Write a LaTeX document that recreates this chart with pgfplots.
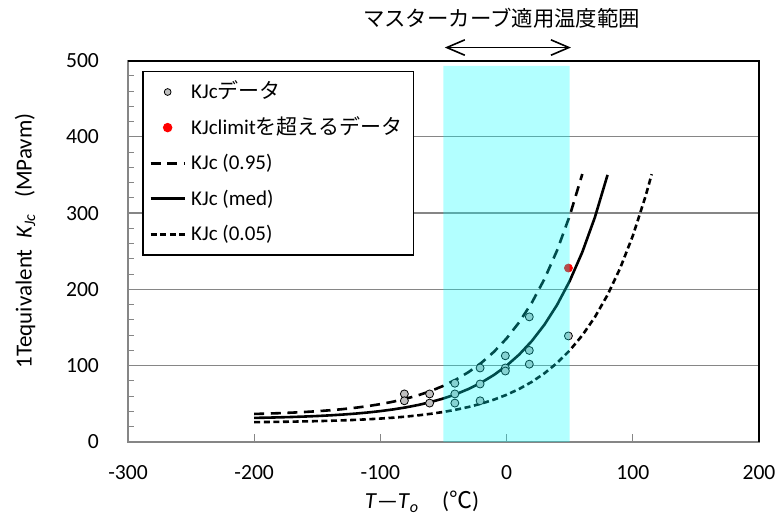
\documentclass[border=0pt]{standalone}
\usepackage{fontspec}
\setmainfont{Carlito}
\newfontfamily\jp{Noto Sans CJK JP}
\usepackage{pgfplots}
\pgfplotsset{compat=1.18}
\usetikzlibrary{arrows.meta}
\definecolor{axgray}{RGB}{134,134,134}
\definecolor{ptgray}{RGB}{191,191,191}
\definecolor{shade}{RGB}{0,255,255}
\begin{document}
\begin{tikzpicture}
\useasboundingbox (-64pt,-37.5pt) rectangle (325pt,221pt);
\begin{axis}[
  clip marker paths=true,
  scale only axis, width=315.5pt, height=190.75pt,
  at={(0pt,0pt)}, anchor=south west,
  xmin=-300, xmax=200, ymin=0, ymax=500,
  xtick={-300,-200,...,200}, ytick={0,100,...,500},
  minor y tick num=4,
  tick align=inside, xtick pos=left, ytick pos=left,
  major tick length=4pt, minor tick length=3pt,
  tick style={axgray, line width=0.5pt},
  ymajorgrids, major grid style={axgray, line width=0.6pt},
  axis line style={axgray, line width=0.9pt},
  font=\fontsize{10.8}{13}\selectfont,
  /pgf/number format/assume math mode=true,
  yticklabel style={xshift=-11pt},
  xticklabel style={yshift=-8pt},
  clip=false,
  xlabel={\textit{T}—\textit{T}\textsubscript{\textit{o}}\quad({\jp ℃})},
  ylabel={1Tequivalent\ \ \textit{K}\textsubscript{\textit{Jc}}\ \ \ (MPavm)},
  xlabel style={at={(axis description cs:0.466,-0.157)}, anchor=center, font=\fontsize{11.5}{13}\selectfont},
  ylabel style={at={(axis description cs:-0.1632,0.527)}, anchor=center, font=\fontsize{11.5}{13}\selectfont},
  legend style={at={(0.0228,0.973)}, anchor=north west, draw=black, line width=0.7pt,
    fill=white, font=\fontsize{10.5}{12}\selectfont,
    nodes={text height=9pt, text depth=2.5pt, inner sep=2.5pt}, row sep=1.3pt},
  legend cell align=left,
]
% legend images
\addlegendimage{only marks, mark=*, mark size=1.7pt, mark options={fill=ptgray, draw=black, line width=0.4pt}}
\addlegendentry{KJc{\jp データ}}
\addlegendimage{only marks, mark=*, mark size=2pt, mark options={fill=red, draw=red}}
\addlegendentry{KJclimit{\jp を超えるデータ}}
\addlegendimage{black, line width=1.3pt, dash pattern=on 5pt off 3.3pt}
\addlegendentry{KJc (0.95)}
\addlegendimage{black, line width=1.5pt}
\addlegendentry{KJc (med)}
\addlegendimage{black, line width=1.3pt, dash pattern=on 3pt off 1.8pt}
\addlegendentry{KJc (0.05)}
% KJc (0.95)
\addplot[black, line width=1.3pt, dash pattern=on 5pt off 3.3pt, forget plot] coordinates {
(-200,36.74)(-190,37.21)(-180,37.78)(-170,38.48)(-160,39.32)(-150,40.33)(-140,41.56)
(-130,43.04)(-120,44.83)(-110,47.00)(-100,49.62)(-90,52.79)(-80,56.63)(-70,61.26)
(-60,66.87)(-50,73.65)(-40,81.85)(-30,91.76)(-20,103.74)(-10,118.24)(0,135.77)
(10,156.97)(20,182.60)(30,213.60)(40,251.07)(50,296.40)(60,351.21)};
% KJc (med)
\addplot[black, line width=1.3pt, forget plot] coordinates {
(-200,31.57)(-190,31.89)(-180,32.29)(-170,32.77)(-160,33.35)(-150,34.05)(-140,34.90)
(-130,35.92)(-120,37.16)(-110,38.66)(-100,40.47)(-90,42.66)(-80,45.31)(-70,48.51)
(-60,52.39)(-50,57.07)(-40,62.74)(-30,69.59)(-20,77.87)(-10,87.89)(0,100)
(10,114.65)(20,132.36)(30,153.78)(40,179.68)(50,211.00)(60,248.87)(70,294.67)(80,350.06)};
% KJc (0.05)
\addplot[black, line width=1.3pt, dash pattern=on 3pt off 1.8pt, forget plot] coordinates {
(-200,26.05)(-190,26.22)(-180,26.43)(-170,26.68)(-160,26.98)(-150,27.35)(-140,27.79)
(-130,28.33)(-120,28.98)(-110,29.76)(-100,30.71)(-90,31.86)(-80,33.24)(-70,34.92)
(-60,36.95)(-50,39.40)(-40,42.37)(-30,45.95)(-20,50.29)(-10,55.53)(0,61.87)
(10,69.54)(20,78.81)(30,90.02)(40,103.58)(50,119.97)(60,139.80)(70,163.77)
(80,192.76)(90,227.81)(100,270.20)(110,321.46)(115,351.0)};
% data
\addplot[only marks, mark=*, mark size=2pt, mark options={fill=ptgray, draw=black, line width=0.4pt}, forget plot] coordinates {
(-81,63)(-81,54)(-61,63)(-61,51)(-41,77)(-41,63)(-41,51)(-21,97)(-21,76)(-21,54)
(-1,113)(-1,97)(-1,93)(18,164)(18,120)(18,102)(49,139)};
\addplot[only marks, mark=*, mark size=2pt, mark options={fill=red, draw=red}, forget plot] coordinates {(49,228)};
% shaded range (on top of data)
\addplot[draw=none, fill=shade, fill opacity=0.3, forget plot] coordinates {(-50,0)(-50,493)(50,493)(50,0)} \closedcycle;
% frame top/right
\draw[black, line width=1pt] (rel axis cs:0,1) -- (rel axis cs:1,1) -- (rel axis cs:1,0);
% arrow and title
\draw[line width=0.8pt, {Straight Barb[length=9pt,width=7.7pt]}-{Straight Barb[length=9pt,width=7.7pt]}] (axis cs:-49,517) -- (axis cs:51,517);
\node[font=\jp\fontsize{10.7}{12}\selectfont] at (axis cs:-4,556) {マスターカーブ適用温度範囲};
\end{axis}
\end{tikzpicture}
\end{document}
